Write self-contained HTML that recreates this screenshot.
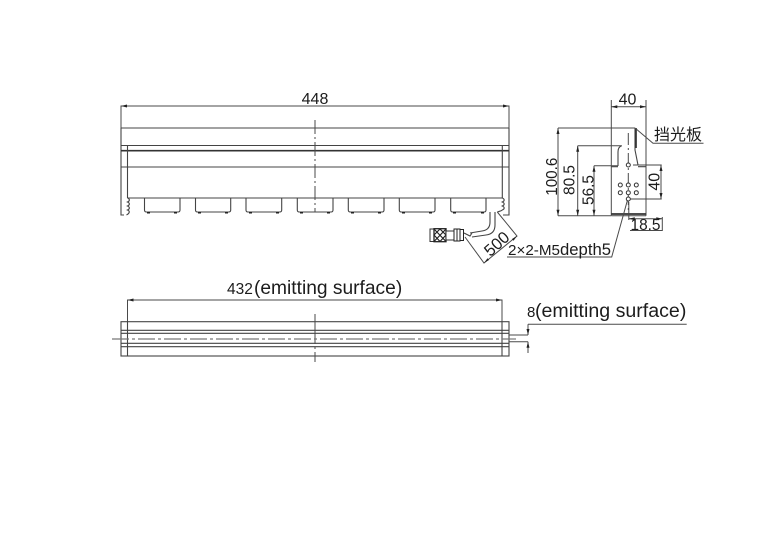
<!DOCTYPE html>
<html>
<head>
<meta charset="utf-8">
<style>
html,body{margin:0;padding:0;background:#fff;width:778px;height:552px;overflow:hidden}
svg{display:block}
text{font-family:"Liberation Sans","Noto Sans CJK SC",sans-serif;fill:#1c1c1c}
.l{stroke:#444;stroke-width:1.1;fill:none}
.d{stroke:#4a4a4a;stroke-width:1;fill:none}
.t{stroke:#333;stroke-width:1.7;fill:none}
.a{fill:#222;stroke:none}
</style>
</head>
<body>
<svg width="778" height="552" viewBox="0 0 778 552" xmlns="http://www.w3.org/2000/svg">
<!-- Front view dimension -->
<path class="d" d="M121 128V106H509V128"/>
<path class="a" d="M121 106l6-1.500v3zM509 106l-6-1.500v3z"/>
<text x="315" y="104" font-size="16" text-anchor="middle">448</text>
<!-- Front view body -->
<path class="l" d="M121 128H509M121 128V215H124M509 128V215H503"/>
<path class="l" d="M121 145.500H509M121 167H509"/>
<path class="t" d="M121 150.700H509"/>
<path class="l" d="M127.500 146V198M502.300 146V198M127.500 198H502.300"/>
<path class="l" d="M127.500 198c2.500 1 2.500 3 0 4c2.500 1 2.500 3 0 4c2.500 1 2.500 3 0 4c2.500 1 2.500 3-1 5"/>
<path class="l" d="M502.300 198c2.500 1 2.500 3 0 4c2.500 1 2.500 3 0 4c2.500 1 2.500 3 0 4c-1 1-2 1-5 2"/>
<path class="d" d="M315 120V212" stroke-dasharray="14 3 2 3"/>
<!-- Feet -->
<path class="l" d="M144.500 198V210q0 2 2 2H178q2 0 2-2V198"/>
<path class="l" d="M195.500 198V210q0 2 2 2H228.700q2 0 2-2V198"/>
<path class="l" d="M246 198V210q0 2 2 2H279.700q2 0 2-2V198"/>
<path class="l" d="M297.300 198V210q0 2 2 2H331q2 0 2-2V198"/>
<path class="l" d="M348.300 198V210q0 2 2 2H382q2 0 2-2V198"/>
<path class="l" d="M399.300 198V210q0 2 2 2H433q2 0 2-2V198"/>
<path class="l" d="M450.700 198V210q0 2 2 2H484q2 0 2-2V198"/>
<path class="a" d="M147 212h3v1.500h-3zM174 212h3v1.500h-3zM198 212h3v1.500h-3zM225 212h3v1.500h-3zM249 212h3v1.500h-3zM276 212h3v1.500h-3zM300 212h3v1.500h-3zM327 212h3v1.500h-3zM351 212h3v1.500h-3zM378 212h3v1.500h-3zM402 212h3v1.500h-3zM429 212h3v1.500h-3zM453 212h3v1.500h-3zM481 212h3v1.500h-3z"/>
<!-- Cable -->
<path class="l" d="M490 212V222q0 8-8 9L470 233"/>
<path class="l" d="M495 212V225q0 9-9 10L472 237"/>
<path class="l" d="M464 233L470 236L472 233"/>
<!-- Connector -->
<rect x="430" y="229" width="4" height="12.500" fill="#fff" stroke="#333"/>
<rect x="434" y="228.700" width="12" height="13" fill="#fff" stroke="#222" stroke-width="1.300"/>
<path d="M434 229L446 241.500M446 229L434 241.500M440 229L434 235M440 229L446 235M440 241.500L434 235M440 241.500L446 235" stroke="#222" stroke-width="1.200" fill="none"/>
<rect x="446" y="231" width="8" height="9" fill="#fff" stroke="#333"/>
<rect x="454" y="229" width="3" height="12" fill="#fff" stroke="#222"/>
<rect x="457" y="229" width="3" height="12" fill="#fff" stroke="#222"/>
<rect x="460" y="229.500" width="3.500" height="11" fill="#fff" stroke="#222"/>
<!-- 500 dim -->
<path class="d" d="M497.300 212L517 236L484 263L465 237"/>
<path class="a" d="M517 236l-5 3 1.500 1.800zM484 263l5-3-1.500-1.800z"/>
<text font-size="16.500" text-anchor="middle" transform="translate(500.500 248) rotate(-42)">500</text>
<!-- Side view -->
<path class="d" d="M611.300 100V215.700M646 100V215.700M611.300 215.700H646"/>
<path class="d" d="M611.300 106.700H646"/>
<path class="a" d="M611.300 106.700l6-1.500v3zM646 106.700l-6-1.500v3z"/>
<text x="627.500" y="104.500" font-size="16" text-anchor="middle">40</text>
<path class="t" d="M611.300 214H646"/>
<path class="d" d="M558 128H635M577.700 145.700H621.700M594 165.700H618"/>
<path class="l" d="M621.700 145.700Q618 147 618 152V166"/>
<path class="l" d="M635 128V150L638 165"/>
<path class="t" d="M636 128V148"/>
<path class="l" d="M633 165H661.700M628.300 199H661.700M611.300 166.700H618M638 166.700H646"/>
<path class="d" d="M558 128V215.700M577.700 145.700V215.700M594 165.700V215.700M558 215.700H611M661 165V199"/>
<path class="a" d="M558 128l-1.500 6h3zM558 215.700l-1.500-6h3zM577.700 145.700l-1.500 6h3zM577.700 215.700l-1.500-6h3zM594 165.700l-1.500 6h3zM594 215.700l-1.500-6h3zM661 165l-1.500 6h3zM661 199l-1.500-6h3z"/>
<path class="d" d="M628.300 133V215" stroke-dasharray="12 3 2 3"/>
<text font-size="16" text-anchor="middle" transform="translate(557 176.700) rotate(-90)" textLength="38" lengthAdjust="spacingAndGlyphs">100.6</text>
<text font-size="16" text-anchor="middle" transform="translate(574.500 180) rotate(-90)" textLength="30" lengthAdjust="spacingAndGlyphs">80.5</text>
<text font-size="16" text-anchor="middle" transform="translate(593.500 190) rotate(-90)" textLength="30" lengthAdjust="spacingAndGlyphs">56.5</text>
<text font-size="16" text-anchor="middle" transform="translate(659.500 181.700) rotate(-90)">40</text>
<!-- Holes -->
<g fill="#fff" stroke="#333" stroke-width="1">
<circle cx="620.300" cy="185" r="2"/><circle cx="628.300" cy="185" r="2"/><circle cx="636.300" cy="185" r="2"/>
<circle cx="620.300" cy="192.700" r="2"/><circle cx="628.300" cy="192.700" r="2"/><circle cx="636.300" cy="192.700" r="2"/>
<circle cx="628.300" cy="165" r="2"/><circle cx="628.300" cy="199" r="2"/>
</g>
<!-- 18.5 -->
<path class="d" d="M628.800 202V220M662.300 217V231M628.800 218.700H662.300"/>
<path class="a" d="M628.800 218.700l6-1.500v3zM662.300 218.700l-6-1.500v3z"/>
<path class="d" d="M630 230.500H662.300"/>
<text x="645.500" y="230" font-size="16" text-anchor="middle" textLength="30" lengthAdjust="spacingAndGlyphs">18.5</text>
<!-- 挡光板 -->
<path class="d" d="M635 128L653 143.200H703.500"/>
<text x="654" y="140" font-size="16">挡光板</text>
<!-- 2x2-M5 leader -->
<path class="d" d="M627.500 200L611.700 257H507"/>
<text x="508" y="255" font-size="15" textLength="52" lengthAdjust="spacingAndGlyphs">2×2-M5</text>
<text x="560" y="255" font-size="17" textLength="51" lengthAdjust="spacingAndGlyphs">depth5</text>
<!-- Bottom view -->
<path class="d" d="M127.500 322V300H502V322"/>
<path class="a" d="M127.500 300l6-1.500v3zM502 300l-6-1.500v3z"/>
<text x="227" y="294" font-size="15.500">432</text>
<text x="254" y="294" font-size="19.200">(emitting surface)</text>
<rect x="121" y="321.700" width="388" height="34.300" class="l"/>
<path class="l" d="M121 330.300H509M121 333.300H509M121 343.300H509M121 346.700H509"/>
<path class="l" d="M127.500 322V356M502 322V356"/>
<path class="d" d="M315 314V362" stroke-dasharray="30 3 2 3"/>
<path d="M112 339H516" stroke="#777" stroke-width="1.200" fill="none" stroke-dasharray="17 3 3 3"/>
<!-- 8 dim -->
<path class="d" d="M509 335H528M509 341.700H528M528 324.300V335M528 341.700V353M528 324.300H686.700"/>
<path class="a" d="M528 335l-1.500-6h3zM528 341.700l-1.500 6h3z"/>
<text x="527" y="317" font-size="15">8</text>
<text x="535" y="317" font-size="19.600">(emitting surface)</text>
</svg>
</body>
</html>
